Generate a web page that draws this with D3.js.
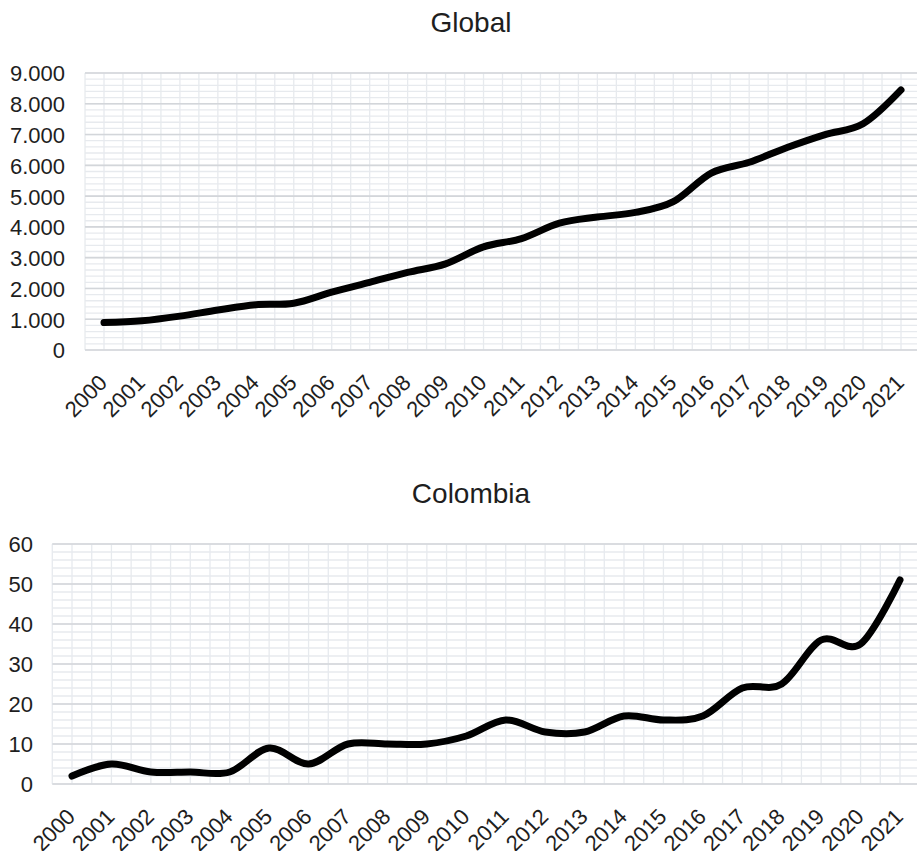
<!DOCTYPE html>
<html>
<head>
<meta charset="utf-8">
<script src="https://cdn.jsdelivr.net/npm/d3@7"></script>
<style>
  html, body { margin: 0; padding: 0; background: #ffffff; }
  svg { display: block; }
  text { font-family: "Liberation Sans", Arial, sans-serif; fill: #1e1e1e; }
</style>
</head>
<body>
<svg id="chart" width="917" height="851"></svg>
<script>
// ---- data ----
const years = ["2000","2001","2002","2003","2004","2005","2006","2007","2008","2009","2010",
               "2011","2012","2013","2014","2015","2016","2017","2018","2019","2020","2021"];
const globalValues = [890, 950, 1100, 1300, 1470, 1520, 1880, 2200, 2520, 2800, 3350,
                      3620, 4120, 4320, 4470, 4820, 5750, 6100, 6580, 7000, 7350, 8450];
const colombiaValues = [2, 5, 3, 3, 3, 9, 5, 10, 10, 10, 12,
                        16, 13, 13, 17, 16, 17, 24, 25, 36, 35, 51];
const globalTicks = [0, 1000, 2000, 3000, 4000, 5000, 6000, 7000, 8000, 9000];
const colombiaTicks = [0, 10, 20, 30, 40, 50, 60];
const titles = ["Global", "Colombia"];

const locale = d3.formatLocale({decimal: ",", thousands: ".", grouping: [3], currency: ["", ""]});
const fmt = locale.format(",d");

const svg = d3.select("#chart");

function drawPanel(cfg) {
  const g = svg.append("g");
  const x = d3.scalePoint().domain(years).range([cfg.x0, cfg.x1]);
  const step = x.step();
  const left = cfg.x0 - step / 2, right = cfg.x1 + step / 2;
  const y = d3.scaleLinear().domain([0, cfg.max]).range([cfg.bottom, cfg.top]);

  // minor horizontal gridlines
  const minor = d3.range(0, cfg.max + 1e-9, cfg.minorStep);
  g.append("g").selectAll("line").data(minor).join("line")
    .attr("x1", left).attr("x2", right)
    .attr("y1", d => y(d)).attr("y2", d => y(d))
    .attr("stroke", "#e7eaee").attr("stroke-width", 1.3);
  // vertical gridlines at half-category steps
  const vpos = d3.range(0, years.length * 2 + 1).map(k => left + k * step / 2);
  g.append("g").selectAll("line").data(vpos).join("line")
    .attr("x1", d => d).attr("x2", d => d)
    .attr("y1", cfg.top).attr("y2", cfg.bottom)
    .attr("stroke", "#e7eaee").attr("stroke-width", 1.3);
  // major horizontal gridlines
  g.append("g").selectAll("line").data(cfg.ticks).join("line")
    .attr("x1", left).attr("x2", right)
    .attr("y1", d => y(d)).attr("y2", d => y(d))
    .attr("stroke", "#d3d6da").attr("stroke-width", 1.6);

  // y axis labels
  const ya = d3.axisLeft(y).tickValues(cfg.ticks).tickFormat(cfg.format).tickSize(0).tickPadding(0);
  const yg = g.append("g").attr("transform", `translate(${cfg.labelRight},0)`).call(ya);
  yg.select(".domain").remove();
  yg.selectAll("text").attr("font-size", 22).attr("fill", "#1e1e1e")
    .attr("font-family", "Liberation Sans, Arial, sans-serif").attr("dy", "0.36em");

  // x axis labels
  const xa = d3.axisBottom(x).tickSize(0).tickPadding(0);
  const xg = g.append("g").attr("transform", `translate(0,${cfg.bottom})`).call(xa);
  xg.select(".domain").remove();
  xg.selectAll("text").attr("font-size", 22).attr("fill", "#1e1e1e")
    .attr("font-family", "Liberation Sans, Arial, sans-serif")
    .attr("text-anchor", "end").attr("dy", null).attr("y", null)
    .attr("transform", "translate(4,34) rotate(-45)");

  // line
  const line = d3.line().x((d, i) => x(years[i])).y(d => y(d)).curve(d3.curveCatmullRom.alpha(0));
  g.append("path").datum(cfg.values).attr("d", line)
    .attr("fill", "none").attr("stroke", "#000").attr("stroke-width", 7)
    .attr("stroke-linecap", "round").attr("stroke-linejoin", "round");

  // title
  g.append("text").attr("x", 471).attr("y", cfg.titleY).attr("text-anchor", "middle")
    .attr("font-size", 28).text(cfg.title);
}

drawPanel({x0: 104, x1: 901, top: 73, bottom: 350, max: 9000, minorStep: 200,
           ticks: globalTicks, values: globalValues, format: fmt, labelRight: 65,
           title: titles[0], titleY: 32});
drawPanel({x0: 72, x1: 900, top: 544, bottom: 784, max: 60, minorStep: 2,
           ticks: colombiaTicks, values: colombiaValues, format: d3.format("d"), labelRight: 33,
           title: titles[1], titleY: 503});
</script>
</body>
</html>
